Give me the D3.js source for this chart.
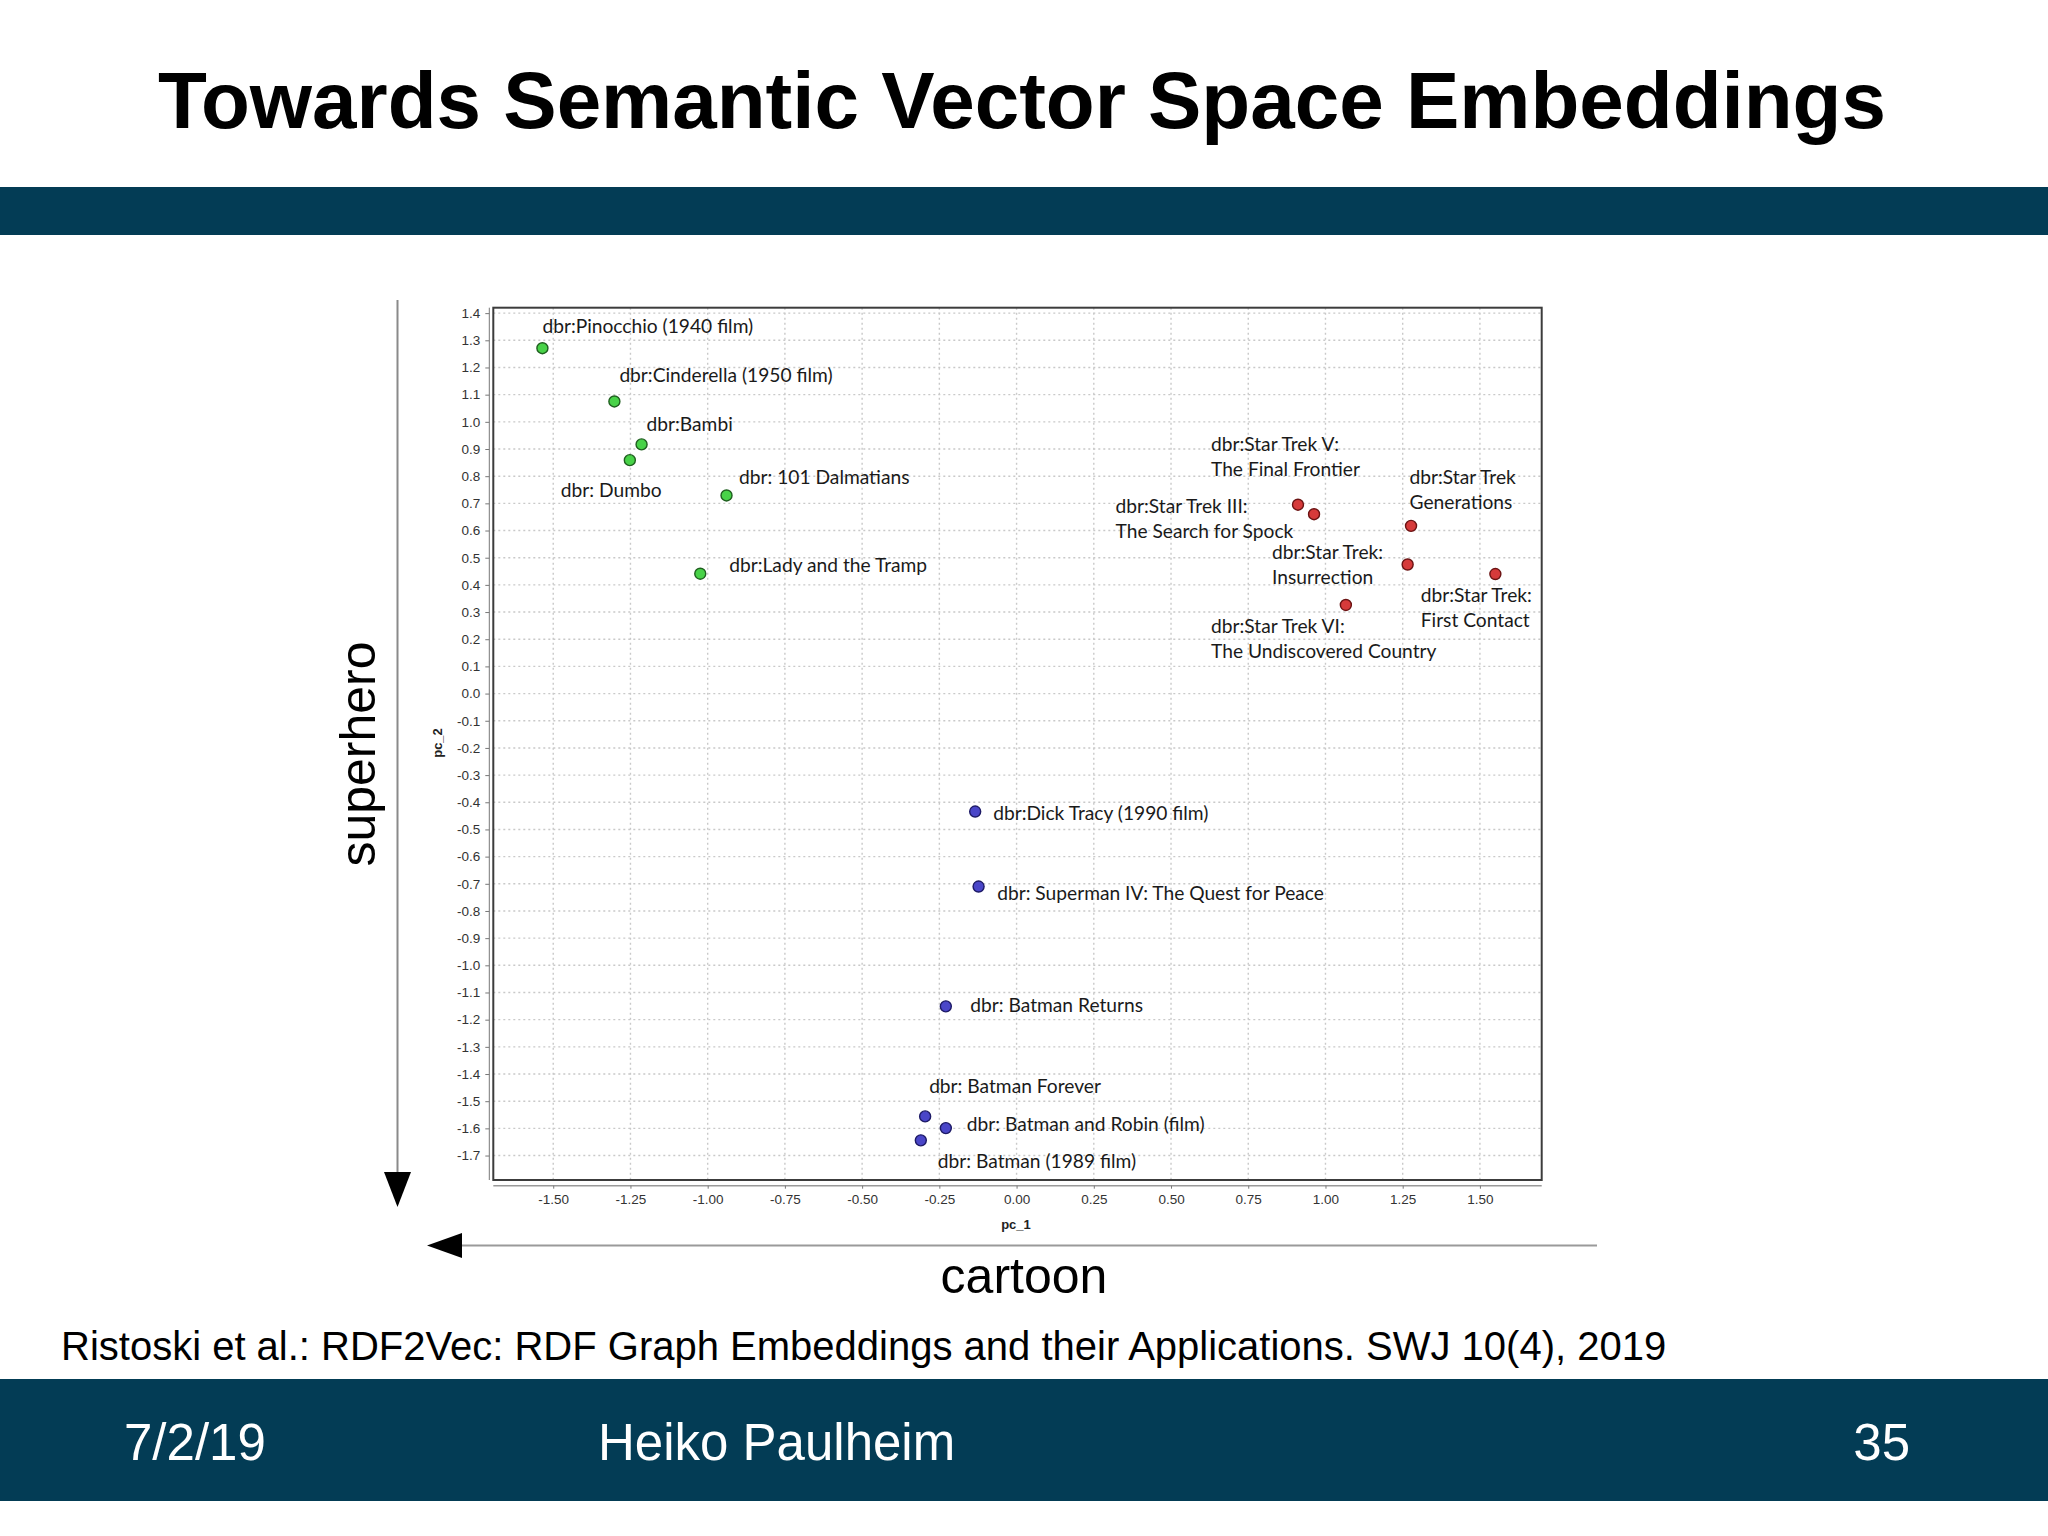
<!DOCTYPE html>
<html>
<head>
<meta charset="utf-8">
<script src="https://cdn.jsdelivr.net/npm/d3@7"></script>
<style>
  html, body { margin: 0; padding: 0; background: #ffffff; }
  svg { display: block; }
</style>
</head>
<body>
<svg id="slide" width="2048" height="1536"></svg>
<script>
// ---------------- data ----------------
const slideTitle = "Towards Semantic Vector Space Embeddings";
const citation = "Ristoski et al.: RDF2Vec: RDF Graph Embeddings and their Applications. SWJ 10(4), 2019";
const footerDate = "7/2/19";
const footerAuthor = "Heiko Paulheim";
const footerPage = "35";
const xAxisTitle = "pc_1";
const yAxisTitle = "pc_2";
const xArrowLabel = "cartoon";
const yArrowLabel = "superhero";

const movies = [
  "dbr:Pinocchio (1940 film)",
  "dbr:Cinderella (1950 film)",
  "dbr:Bambi",
  "dbr: Dumbo",
  "dbr: 101 Dalmatians",
  "dbr:Lady and the Tramp",
  "dbr:Star Trek V:|The Final Frontier",
  "dbr:Star Trek III:|The Search for Spock",
  "dbr:Star Trek|Generations",
  "dbr:Star Trek:|Insurrection",
  "dbr:Star Trek:|First Contact",
  "dbr:Star Trek VI:|The Undiscovered Country",
  "dbr:Dick Tracy (1990 film)",
  "dbr: Superman IV: The Quest for Peace",
  "dbr: Batman Returns",
  "dbr: Batman Forever",
  "dbr: Batman and Robin (film)",
  "dbr: Batman (1989 film)"
];
const pc1 = [-1.535, -1.302, -1.214, -1.252, -0.939, -1.024,
              0.911,  0.963,  1.277,  1.266,  1.550,  1.066,
             -0.134, -0.123, -0.229, -0.296, -0.229, -0.310];
const pc2 = [ 1.271,  1.075,  0.917,  0.859,  0.729,  0.441,
              0.695,  0.660,  0.617,  0.475,  0.440,  0.326,
             -0.434, -0.710, -1.151, -1.556, -1.599, -1.644];
const group = ["cartoon","cartoon","cartoon","cartoon","cartoon","cartoon",
               "startrek","startrek","startrek","startrek","startrek","startrek",
               "superhero","superhero","superhero","superhero","superhero","superhero"];

const xTicks = [-1.50, -1.25, -1.00, -0.75, -0.50, -0.25, 0.00, 0.25, 0.50, 0.75, 1.00, 1.25, 1.50];
const yTicks = [1.4, 1.3, 1.2, 1.1, 1.0, 0.9, 0.8, 0.7, 0.6, 0.5, 0.4, 0.3, 0.2, 0.1, 0.0,
                -0.1, -0.2, -0.3, -0.4, -0.5, -0.6, -0.7, -0.8, -0.9, -1.0, -1.1, -1.2,
                -1.3, -1.4, -1.5, -1.6, -1.7];

// ---------------- layout (label placement relative to each point, px) ----------------
const labelDx = [0, 5, 5, -69, 12.5, 29, -87, -198.5, -1.5, -135.6, -74.6, -134.8, 18, 18.6, 24.5, 4, 21, 17];
const labelDy = [-23, -27.6, -21, 28.5, -19.7, -9.5, -62, -9, -50, -13, 19.5, 20, 0, 5, -2, -31.8, -4.6, 19.4];

const fills   = { cartoon: "#48d248", startrek: "#d63a3a", superhero: "#4a46c8" };
const strokes = { cartoon: "#1f5f1f", startrek: "#6b1313", superhero: "#1d1a66" };

const svg = d3.select("#slide");
const BAND = "#033c55";
const SANS = "'Liberation Sans', Arial, Helvetica, sans-serif";
const LABELFONT = "Lato, 'Open Sans', sans-serif";

// ---------------- slide chrome ----------------
svg.append("rect").attr("x", 0).attr("y", 0).attr("width", 2048).attr("height", 1536).attr("fill", "#fff");
svg.append("text").attr("x", 1022).attr("y", 128).attr("text-anchor", "middle")
  .attr("font-family", SANS).attr("font-weight", "bold").attr("font-size", 80)
  .attr("fill", "#000").text(slideTitle);
svg.append("rect").attr("x", 0).attr("y", 187).attr("width", 2048).attr("height", 48).attr("fill", BAND);
svg.append("rect").attr("x", 0).attr("y", 1379).attr("width", 2048).attr("height", 122).attr("fill", BAND);
svg.append("text").attr("x", 124).attr("y", 1460).attr("font-family", SANS).attr("font-size", 51)
  .attr("fill", "#fff").text(footerDate);
svg.append("text").attr("x", 598).attr("y", 1460).attr("font-family", SANS).attr("font-size", 51)
  .attr("fill", "#fff").text(footerAuthor);
svg.append("text").attr("x", 1910).attr("y", 1460).attr("text-anchor", "end").attr("font-family", SANS)
  .attr("font-size", 51).attr("fill", "#fff").text(footerPage);
svg.append("text").attr("x", 61).attr("y", 1360).attr("font-family", SANS).attr("font-size", 40)
  .attr("fill", "#000").text(citation);

// ---------------- chart ----------------
const frame = { left: 493.3, right: 1541.7, top: 307.7, bottom: 1180 };
const x = d3.scaleLinear().domain([-1.694, 1.700]).range([frame.left, frame.right]);
const y = d3.scaleLinear().domain([-1.79, 1.42]).range([frame.bottom, frame.top]);

const chart = svg.append("g");

// grid
chart.append("g").selectAll("line").data(xTicks).join("line")
  .attr("x1", d => x(d)).attr("x2", d => x(d)).attr("y1", frame.top).attr("y2", frame.bottom)
  .attr("stroke", "#c9c9c9").attr("stroke-width", 1.4).attr("stroke-dasharray", "2,3");
chart.append("g").selectAll("line").data(yTicks).join("line")
  .attr("x1", frame.left).attr("x2", frame.right).attr("y1", d => y(d)).attr("y2", d => y(d))
  .attr("stroke", "#c9c9c9").attr("stroke-width", 1.4).attr("stroke-dasharray", "2,3");

// frame
chart.append("rect").attr("x", frame.left).attr("y", frame.top)
  .attr("width", frame.right - frame.left).attr("height", frame.bottom - frame.top)
  .attr("fill", "none").attr("stroke", "#3c3c3c").attr("stroke-width", 2);

// axes
const yAxis = d3.axisLeft(y).tickValues(yTicks).tickSize(4).tickPadding(5)
  .tickFormat(d => d.toFixed(1));
const yG = chart.append("g").attr("transform", "translate(489.3,0)").call(yAxis);
yG.select(".domain").attr("d", `M0,${frame.top}V${frame.bottom}`).attr("stroke", "#777").attr("stroke-width", 1);

const xAxis = d3.axisBottom(x).tickValues(xTicks).tickSize(3).tickPadding(6)
  .tickFormat(d => d.toFixed(2));
const xG = chart.append("g").attr("transform", "translate(0,1185.7)").call(xAxis);
xG.select(".domain").attr("d", `M${frame.left},0H${frame.right}`).attr("stroke", "#999").attr("stroke-width", 1.5);

[yG, xG].forEach(g => {
  g.selectAll(".tick line").attr("stroke", "#777");
  g.selectAll(".tick text").attr("font-family", SANS).attr("font-size", 13.5).attr("fill", "#333");
});

chart.append("text").attr("x", 1016).attr("y", 1229).attr("text-anchor", "middle")
  .attr("font-family", SANS).attr("font-weight", "bold").attr("font-size", 13).attr("fill", "#222")
  .text(xAxisTitle);
chart.append("text").attr("transform", "translate(442,743) rotate(-90)").attr("text-anchor", "middle")
  .attr("font-family", SANS).attr("font-weight", "bold").attr("font-size", 13).attr("fill", "#222")
  .text(yAxisTitle);

// points
const pts = movies.map((m, i) => ({ name: m, px: pc1[i], py: pc2[i], g: group[i], dx: labelDx[i], dy: labelDy[i] }));

chart.append("g").selectAll("circle").data(pts).join("circle")
  .attr("cx", d => x(d.px)).attr("cy", d => y(d.py)).attr("r", 5.5)
  .attr("fill", d => fills[d.g]).attr("stroke", d => strokes[d.g]).attr("stroke-width", 1.4);

// labels
const lbl = chart.append("g").selectAll("text").data(pts).join("text")
  .attr("font-family", LABELFONT).attr("font-size", 19.2).attr("fill", "#1a1a1a")
  .attr("dominant-baseline", "central");
lbl.each(function(d) {
  const t = d3.select(this);
  const lines = d.name.split("|");
  lines.forEach((ln, k) => {
    t.append("tspan").attr("x", x(d.px) + d.dx).attr("y", y(d.py) + d.dy + k * 25).text(ln);
  });
});

// ---------------- arrows ----------------
svg.append("line").attr("x1", 462).attr("x2", 1597).attr("y1", 1245.5).attr("y2", 1245.5)
  .attr("stroke", "#9a9a9a").attr("stroke-width", 2);
svg.append("path").attr("d", "M427,1245.5L462,1233L462,1258Z").attr("fill", "#000");
svg.append("line").attr("x1", 397.5).attr("x2", 397.5).attr("y1", 300).attr("y2", 1172)
  .attr("stroke", "#8a8a8a").attr("stroke-width", 2);
svg.append("path").attr("d", "M397.5,1207L384,1172L411,1172Z").attr("fill", "#000");

svg.append("text").attr("x", 1024).attr("y", 1293).attr("text-anchor", "middle")
  .attr("font-family", SANS).attr("font-size", 50).attr("fill", "#000").text(xArrowLabel);
svg.append("text").attr("transform", "translate(375,754) rotate(-90)").attr("text-anchor", "middle")
  .attr("font-family", SANS).attr("font-size", 50).attr("fill", "#000").text(yArrowLabel);
</script>
</body>
</html>
